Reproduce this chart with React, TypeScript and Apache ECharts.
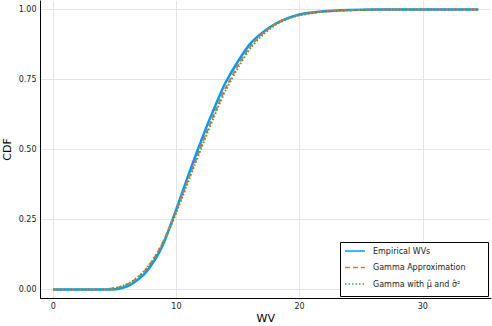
import React, { useEffect, useRef } from "react";
import * as echarts from "echarts";

const xGrid = [0, 1, 2, 3, 4, 4.5, 5, 5.5, 6, 6.5, 7, 7.5, 8, 8.5, 9, 9.5, 10, 10.5, 11, 11.5, 12, 12.5, 13, 13.5, 14, 15, 16, 17, 18, 19, 20, 22, 24, 26, 28, 30, 34.5];
const empirical = [0, 0, 0, 0, 0, 0, 0.001, 0.005, 0.012, 0.024, 0.04, 0.06, 0.09, 0.125, 0.17, 0.228, 0.288, 0.35, 0.412, 0.472, 0.53, 0.587, 0.64, 0.692, 0.74, 0.815, 0.878, 0.918, 0.948, 0.968, 0.982, 0.993, 0.998, 1, 1, 1, 1];
const gammaApprox = [0, 0, 0, 0, 0, 0.002, 0.005, 0.01, 0.018, 0.03, 0.048, 0.07, 0.1, 0.135, 0.178, 0.228, 0.283, 0.34, 0.398, 0.455, 0.512, 0.567, 0.62, 0.672, 0.72, 0.8, 0.868, 0.914, 0.947, 0.968, 0.98, 0.993, 0.997, 0.999, 1, 1, 1];
const gammaMoments = [0, 0, 0, 0, 0, 0.002, 0.005, 0.011, 0.02, 0.032, 0.05, 0.072, 0.1, 0.134, 0.175, 0.222, 0.276, 0.332, 0.39, 0.447, 0.503, 0.558, 0.611, 0.663, 0.711, 0.792, 0.861, 0.909, 0.943, 0.966, 0.979, 0.992, 0.997, 0.999, 1, 1, 1];
const xTicks = [0, 10, 20, 30];
const yTicks = [0, 0.25, 0.5, 0.75, 1];
const seriesNames = ["Empirical WVs", "Gamma Approximation", "Gamma with μ̂ and σ̂²"];
const seriesColors = ["#009AFA", "#E36F47", "#3EA44E"];
const seriesDash: (number[] | null)[] = [null, [5, 3], [1.5, 2]];

const FONT = "DejaVu Sans";

export default function App() {
  const ref = useRef<HTMLDivElement>(null);
  useEffect(() => {
    if (!ref.current) return;
    const chart = echarts.init(ref.current, null, { renderer: "svg" });
    const pair = (ys: number[]) => xGrid.map((x, i) => [x, ys[i]]);
    const legendLeft = 340;
    const legendTop = 242;
    const legendElems: any[] = [
      {
        type: "rect",
        shape: { x: legendLeft + 0.5, y: legendTop + 0.5, width: 148, height: 54 },
        style: { fill: "#fff", stroke: "#000", lineWidth: 1 },
        z: 10,
      },
    ];
    seriesNames.forEach((name, i) => {
      const cy = legendTop + 9 + i * 16.5;
      legendElems.push({
        type: "line",
        shape: { x1: legendLeft + 5, y1: cy, x2: legendLeft + 25, y2: cy },
        style: {
          stroke: seriesColors[i],
          lineWidth: 1.5,
          lineDash: seriesDash[i] || undefined,
        },
        z: 11,
      });
      legendElems.push({
        type: "text",
        x: legendLeft + 33,
        y: cy,
        style: {
          text: name,
          fontFamily: FONT,
          fontSize: 8,
          fill: "#222",
          verticalAlign: "middle",
          align: "left",
        },
        z: 11,
      });
    });
    chart.setOption({
      animation: false,
      backgroundColor: "#ffffff",
      grid: { left: 40.5, right: 1, top: 1, bottom: 28, outerBoundsMode: "none", containLabel: false },
      xAxis: {
        type: "value",
        min: -1.035,
        max: 35.535,
        name: "WV",
        nameLocation: "middle",
        nameGap: 15,
        nameMoveOverlap: false,
        nameTextStyle: { fontFamily: FONT, fontSize: 11, color: "#000" },
        axisLine: { show: true, onZero: false, lineStyle: { color: "#000", width: 1 } },
        axisTick: { show: false, customValues: xTicks },
        axisLabel: {
          customValues: xTicks,
          fontFamily: FONT,
          fontSize: 8,
          color: "#222",
          margin: 4,
        },
        splitLine: { show: true, lineStyle: { color: "#e5e5e5", width: 1 } },
      },
      yAxis: {
        type: "value",
        min: -0.03,
        max: 1.03,
        name: "CDF",
        nameLocation: "middle",
        nameGap: 28,
        nameRotate: 90,
        nameMoveOverlap: false,
        nameTextStyle: { fontFamily: FONT, fontSize: 11, color: "#000" },
        axisLine: { show: true, onZero: false, lineStyle: { color: "#000", width: 1 } },
        axisTick: { show: false, customValues: yTicks },
        axisLabel: {
          customValues: yTicks,
          formatter: (v: number) => v.toFixed(2),
          fontFamily: FONT,
          fontSize: 8,
          color: "#222",
          margin: 4,
        },
        splitLine: { show: true, lineStyle: { color: "#e5e5e5", width: 1 } },
      },
      graphic: legendElems,
      series: [
        {
          name: seriesNames[0],
          type: "line",
          data: pair(empirical),
          showSymbol: false,
          symbol: "none",
          smooth: 0.3,
          lineStyle: { color: seriesColors[0], width: 2.5 },
          itemStyle: { color: seriesColors[0] },
          z: 2,
        },
        {
          name: seriesNames[1],
          type: "line",
          data: pair(gammaApprox),
          showSymbol: false,
          symbol: "none",
          smooth: 0.3,
          lineStyle: { color: seriesColors[1], width: 2, type: seriesDash[1] },
          itemStyle: { color: seriesColors[1] },
          z: 3,
        },
        {
          name: seriesNames[2],
          type: "line",
          data: pair(gammaMoments),
          showSymbol: false,
          symbol: "none",
          smooth: 0.3,
          lineStyle: { color: seriesColors[2], width: 2, type: seriesDash[2] },
          itemStyle: { color: seriesColors[2] },
          z: 4,
        },
      ],
    });
    return () => chart.dispose();
  }, []);
  return <div ref={ref} style={{ width: 492, height: 326, position: "absolute", left: 0, top: 0 }} />;
}
